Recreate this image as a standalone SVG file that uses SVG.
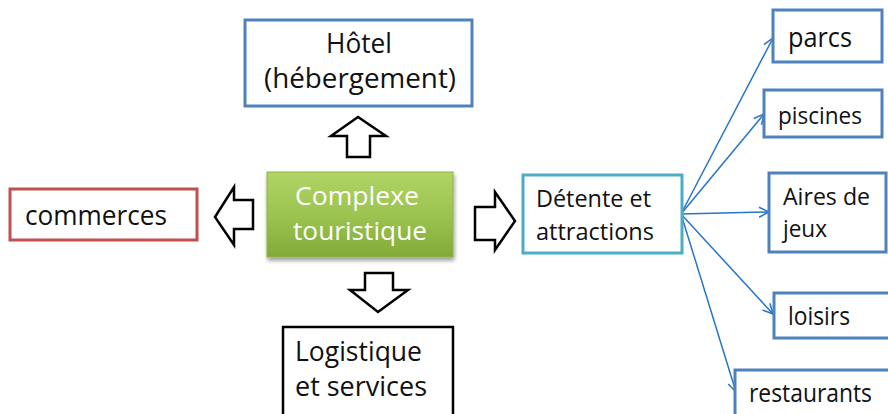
<svg xmlns="http://www.w3.org/2000/svg" width="888" height="414" viewBox="0 0 888 414">
<defs>
<linearGradient id="gGreen" x1="0" y1="0" x2="0" y2="1">
<stop offset="0" stop-color="#b0d466"/>
<stop offset="0.5" stop-color="#9cc450"/>
<stop offset="1" stop-color="#82aa38"/>
</linearGradient>
<filter id="shadow" x="-10%" y="-10%" width="130%" height="130%">
<feGaussianBlur in="SourceAlpha" stdDeviation="2"/>
<feOffset dx="1" dy="3" result="o"/>
<feComponentTransfer><feFuncA type="linear" slope="0.4"/></feComponentTransfer>
<feMerge><feMergeNode/><feMergeNode in="SourceGraphic"/></feMerge>
</filter>
<marker id="arr" viewBox="0 0 12 12" refX="11" refY="6" markerWidth="12" markerHeight="12" markerUnits="userSpaceOnUse" orient="auto">
<path d="M1,1 L11,6 L1,11" fill="none" stroke="#2775c8" stroke-width="1.5"/>
</marker>
</defs>
<style>
text{font-family:"Open Sans","Liberation Sans",sans-serif;fill:#111;}
.box{fill:#fff;stroke-width:3;}
.blue{stroke:#4f81bd;}
.red{stroke:#c0504d;}
.teal{stroke:#4bacc6;}
.black{stroke:#000;stroke-width:2.5;}
.barrow{fill:#fff;stroke:#000;stroke-width:2.5;stroke-linejoin:miter;}
.conn{stroke:#2775c8;stroke-width:1.5;fill:none;marker-end:url(#arr);}
</style>
<rect width="888" height="414" fill="#fff"/>

<g id="connectors">
<path class="barrow" d="M358,117 L386,136 L370,136 L370,157 L347,157 L347,136 L331,136 Z"/>
<path class="barrow" d="M215,217 L234,187 L234,200 L253,200 L253,229 L234,229 L234,245 Z"/>
<path class="barrow" d="M365,273 L393,273 L393,290 L408,290 L378,312 L350,290 L365,290 Z"/>
<path class="barrow" d="M475,207 L495,207 L495,192 L515,221 L495,250 L495,240 L475,240 Z"/>
<line class="conn" x1="681" y1="214" x2="773" y2="38"/>
<line class="conn" x1="681" y1="214" x2="764" y2="114"/>
<line class="conn" x1="681" y1="214" x2="769" y2="212"/>
<line class="conn" x1="681" y1="214" x2="773" y2="314"/>
<line class="conn" x1="681" y1="214" x2="736" y2="392"/>
</g>

<g id="hotel">
<rect class="box blue" x="245" y="20" width="227" height="86"/>
<text x="326" y="53" font-size="27" textLength="66" lengthAdjust="spacingAndGlyphs">Hôtel</text>
<text x="264" y="88" font-size="27" textLength="192" lengthAdjust="spacingAndGlyphs">(hébergement)</text>
</g>

<g id="commerces">
<rect class="box red" x="10" y="189" width="187" height="51"/>
<text x="25" y="225" font-size="27" textLength="142" lengthAdjust="spacingAndGlyphs">commerces</text>
</g>

<g id="complexe">
<rect x="267" y="172" width="186" height="85" fill="url(#gGreen)" stroke="#8cb446" stroke-width="1" filter="url(#shadow)"/>
<text x="295" y="205" font-size="26" style="fill:#fff" textLength="124" lengthAdjust="spacingAndGlyphs">Complexe</text>
<text x="293" y="240" font-size="26" style="fill:#fff" textLength="134" lengthAdjust="spacingAndGlyphs">touristique</text>
</g>

<g id="logistique">
<rect class="box black" x="283" y="327" width="170" height="100"/>
<text x="295" y="361" font-size="28" textLength="127" lengthAdjust="spacingAndGlyphs">Logistique</text>
<text x="295" y="396" font-size="28" textLength="132" lengthAdjust="spacingAndGlyphs">et services</text>
</g>

<g id="detente">
<rect class="box teal" x="523" y="175" width="159" height="78"/>
<text x="536" y="207" font-size="23" textLength="115" lengthAdjust="spacingAndGlyphs">Détente et</text>
<text x="536" y="240" font-size="23" textLength="118" lengthAdjust="spacingAndGlyphs">attractions</text>
</g>

<g id="parcs">
<rect class="box blue" x="773" y="10" width="109" height="52"/>
<text x="788" y="47" font-size="27" textLength="64" lengthAdjust="spacingAndGlyphs">parcs</text>
</g>

<g id="piscines">
<rect class="box blue" x="764" y="90" width="118" height="47"/>
<text x="778" y="124" font-size="23" textLength="84" lengthAdjust="spacingAndGlyphs">piscines</text>
</g>

<g id="aires">
<rect class="box blue" x="769" y="173" width="117" height="79"/>
<text x="783" y="205" font-size="24" textLength="87" lengthAdjust="spacingAndGlyphs">Aires de</text>
<text x="783" y="237" font-size="24" textLength="44" lengthAdjust="spacingAndGlyphs">jeux</text>
</g>

<g id="loisirs">
<rect class="box blue" x="774" y="293" width="120" height="45"/>
<text x="788" y="325" font-size="25" textLength="62" lengthAdjust="spacingAndGlyphs">loisirs</text>
</g>

<g id="restaurants">
<rect class="box blue" x="735" y="370" width="160" height="60"/>
<text x="749" y="402" font-size="25" textLength="123" lengthAdjust="spacingAndGlyphs">restaurants</text>
</g>
</svg>
